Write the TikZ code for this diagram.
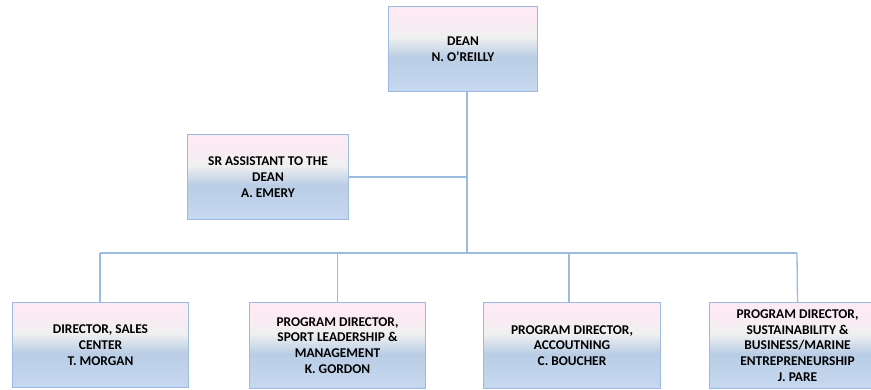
\documentclass[tikz,border=0pt]{standalone}
\usepackage{fontspec}
\setmainfont{Carlito}
\definecolor{bpink}{HTML}{FCEAF4}
\definecolor{bgray}{HTML}{F0F0F0}
\definecolor{bblue}{HTML}{B9CDE5}
\definecolor{blight}{HTML}{C6D9F0}
\definecolor{bline}{HTML}{9DBAE0}
\pgfdeclareverticalshading{orgshade}{100bp}{color(0bp)=(blight); color(25bp)=(blight); color(45bp)=(bblue); color(57bp)=(bgray); color(68bp)=(bpink); color(75bp)=(bpink); color(100bp)=(bpink)}
\tikzset{
  orgbox/.style={draw=bline, line width=1pt, shading=orgshade, align=center,
    font=\bfseries\fontsize{13.4}{15.7}\selectfont, inner sep=0pt, anchor=north west},
  link/.style={draw=bline, line width=1.3pt}
}
\begin{document}
\begin{tikzpicture}[x=1pt,y=-1pt]
\useasboundingbox (0,0) rectangle (871,390);
\begin{scope}
\clip (0,0) rectangle (871,390);
\node[orgbox, minimum width=149pt, minimum height=85pt] (dean) at (388,6) {DEAN\\N. O’REILLY};
\node[orgbox, minimum width=161pt, minimum height=85pt] (asst) at (187,134) {SR ASSISTANT TO THE\\DEAN\\A. EMERY};
\node[orgbox, minimum width=176pt, minimum height=85pt] (b1) at (12,302) {DIRECTOR, SALES\\CENTER\\T. MORGAN};
\node[orgbox, minimum width=176pt, minimum height=86pt] (b2) at (249,302) {PROGRAM DIRECTOR,\\SPORT LEADERSHIP \&\\MANAGEMENT\\K. GORDON};
\node[orgbox, minimum width=177pt, minimum height=86pt] (b3) at (483,302) {PROGRAM DIRECTOR,\\ACCOUTNING\\C. BOUCHER};
\node[orgbox, minimum width=176pt, minimum height=86pt] (b4) at (709,302) {PROGRAM DIRECTOR,\\SUSTAINABILITY \&\\BUSINESS/MARINE\\ENTREPRENEURSHIP\\J. PARE};
\end{scope}
\coordinate (bus) at (467,253);
\coordinate (busL) at (100,253);
\coordinate (busR) at (797,253);
\draw[link] (dean.south -| bus) -- (bus);
\draw[link] (asst.east) -- (asst.east -| bus);
\draw[link] (busL) -- (busR);
\draw[link] (busL) -- (busL |- b1.north);
\draw[link] (b2.north |- bus) -- (b2.north);
\draw[link] (569,253) -- (569,302);
\draw[link] (busR) -- (b4.north);
\end{tikzpicture}
\end{document}
